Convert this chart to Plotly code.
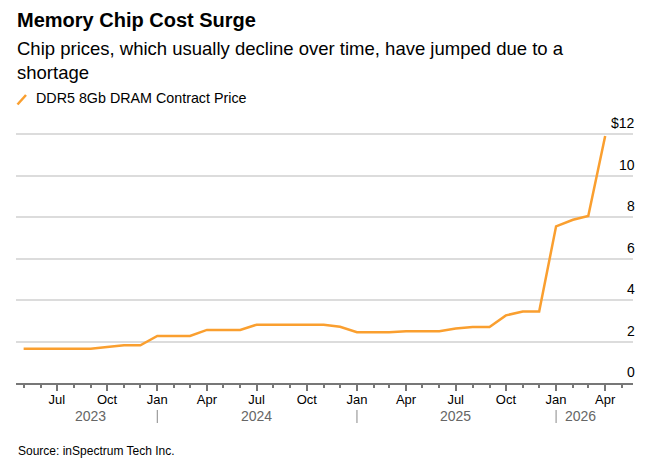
import plotly.graph_objects as go

# ---- data ----
months = [
    "2023-05-01", "2023-06-01", "2023-07-01", "2023-08-01", "2023-09-01", "2023-10-01",
    "2023-11-01", "2023-12-01",
    "2024-01-01", "2024-02-01", "2024-03-01", "2024-04-01", "2024-05-01", "2024-06-01",
    "2024-07-01", "2024-08-01", "2024-09-01", "2024-10-01", "2024-11-01", "2024-12-01",
    "2025-01-01", "2025-02-01", "2025-03-01", "2025-04-01", "2025-05-01", "2025-06-01",
    "2025-07-01", "2025-08-01", "2025-09-01", "2025-10-01", "2025-11-01", "2025-12-01",
    "2026-01-01", "2026-02-01", "2026-03-01", "2026-04-01",
]
price = [
    1.65, 1.65, 1.65, 1.65, 1.65, 1.73, 1.82, 1.82,
    2.27, 2.27, 2.27, 2.56, 2.56, 2.56, 2.81, 2.81, 2.81, 2.81, 2.81, 2.71,
    2.45, 2.45, 2.45, 2.50, 2.50, 2.50, 2.63, 2.70, 2.70, 3.26, 3.45, 3.45,
    7.55, 7.87, 8.05, 11.9,
]
y_tickvals = [0, 2, 4, 6, 8, 10, 12]
y_ticktext = ["0", "2", "4", "6", "8", "10", "$12"]
year_labels = ["2023", "2024", "2025", "2026"]
year_label_x = ["2023-09-01", "2024-07-01", "2025-07-01", "2026-02-14"]
year_breaks = ["2024-01-01", "2025-01-01", "2026-01-01"]

title = "Memory Chip Cost Surge"
subtitle = "Chip prices, which usually decline over time, have jumped due to a<br>shortage"
series_name = "DDR5 8Gb DRAM Contract Price"
source = "Source: inSpectrum Tech Inc."

# ---- layout geometry ----
W, H = 654, 472
ML, MR, MT, MB = 16, 21, 133, 89
plot_w = W - ML - MR
plot_h = H - MT - MB
FONT = "Liberation Sans, Arial, Helvetica, sans-serif"
ORANGE = "#fa9f2f"


def px(p):
    return (p - ML) / plot_w


def py(p):
    return (H - MB - p) / plot_h


fig = go.Figure()
fig.add_trace(go.Scatter(
    x=months, y=price, mode="lines", name=series_name,
    line=dict(color=ORANGE, width=2.5), showlegend=False,
))

annotations = [
    dict(text=f"<b>{title}</b>", x=px(15), y=py(7), xref="paper", yref="paper",
         xanchor="left", yanchor="top", showarrow=False,
         font=dict(family=FONT, size=20, color="#000")),
    dict(text=subtitle, x=px(15), y=py(36), xref="paper", yref="paper",
         xanchor="left", yanchor="top", showarrow=False, align="left",
         font=dict(family=FONT, size=18.5, color="#000")),
    dict(text=series_name, x=px(34), y=py(88), xref="paper", yref="paper",
         xanchor="left", yanchor="top", showarrow=False,
         font=dict(family=FONT, size=14.3, color="#000")),
    dict(text=source, x=px(16), y=py(442), xref="paper", yref="paper",
         xanchor="left", yanchor="top", showarrow=False,
         font=dict(family=FONT, size=12, color="#000")),
]
# y-axis value labels, placed on the y scale just above each gridline
for v, t in zip(y_tickvals, y_ticktext):
    annotations.append(dict(text=t, x=px(637), y=v, xref="paper", yref="y",
                            xanchor="right", yanchor="bottom", yshift=1,
                            showarrow=False,
                            font=dict(family=FONT, size=14, color="#000")))
for lab, xv in zip(year_labels, year_label_x):
    annotations.append(dict(text=lab, x=xv, y=py(406), xref="x", yref="paper",
                            xanchor="center", yanchor="top", showarrow=False,
                            font=dict(family=FONT, size=14, color="#666")))

shapes = [
    dict(type="line", xref="paper", yref="paper", x0=px(17.5), y0=py(104.5),
         x1=px(26), y1=py(95), line=dict(color=ORANGE, width=2.5)),
]
for xb in year_breaks:
    shapes.append(dict(type="line", xref="x", yref="paper", x0=xb, x1=xb,
                       y0=py(410), y1=py(423), line=dict(color="#888", width=1)))

fig.update_layout(
    width=W, height=H,
    margin=dict(l=ML, r=MR, t=MT, b=MB),
    paper_bgcolor="white", plot_bgcolor="white",
    font=dict(family=FONT, color="#000"),
    annotations=annotations,
    shapes=shapes,
    xaxis=dict(
        type="date",
        range=["2023-04-17", "2026-05-22"],
        tick0="2023-01-01", dtick="M3", tickformat="%b",
        ticks="outside", ticklen=6, tickwidth=1.5, tickcolor="#777",
        showline=True, linecolor="#777", linewidth=2,
        showgrid=False, zeroline=False,
        ticklabelstandoff=-3,
        tickfont=dict(family=FONT, size=13, color="#000"),
        minor=dict(dtick="M1", ticks="outside", ticklen=3, tickwidth=1.5,
                   tickcolor="#777", showgrid=False),
        fixedrange=True,
    ),
    yaxis=dict(
        range=[0, 12.05], side="right",
        tickvals=y_tickvals, showticklabels=False,
        showgrid=True, gridcolor="#dcdcdc", gridwidth=1.5,
        zeroline=False, showline=False, ticks="",
        fixedrange=True,
    ),
)

fig.write_html("out.html", config=dict(displayModeBar=False))
